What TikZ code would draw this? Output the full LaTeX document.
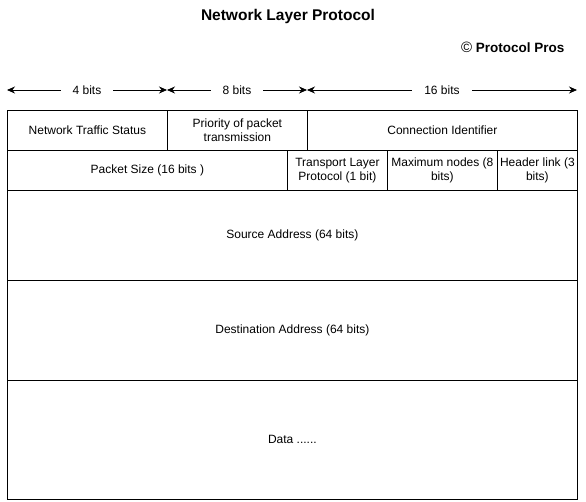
\documentclass[tikz,border=0pt]{standalone}
\usepackage{fontspec}
\setmainfont{Liberation Sans}
\usetikzlibrary{positioning,arrows.meta}
\tikzset{
    cell/.style={draw=black, line width=0.8pt, anchor=north west, inner sep=1pt,
        align=center, font=\fontsize{12}{14}\selectfont},
    bitlabel/.style={fill=white, inner xsep=12pt, font=\fontsize{12}{14}\selectfont},
    bitarrow/.style={{Stealth[length=8pt,width=7pt]}-{Stealth[length=8pt,width=7pt]}, line width=0.8pt}
}
\begin{document}
\begin{tikzpicture}[x=1pt, y=-1pt]
        \useasboundingbox (0,0) rectangle (586,501);
        % --- TIEU DE ---
        \node[font=\bfseries\fontsize{15.5}{18}\selectfont] (title) at (288,16) {Network Layer Protocol};
        \node[font=\bfseries\fontsize{13.5}{16}\selectfont, anchor=east] (brand) at (568,47) {\textmd{\fontsize{15}{16}\selectfont ©} Protocol Pros};

        % --- MUI TEN DO DAI BIT ---
        \coordinate (b0) at (7,90);
        \coordinate (b1) at (167,90);
        \coordinate (b2) at (307,90);
        \coordinate (b3) at (577,90);
        \draw[bitarrow] (b0) -- node[bitlabel] (l4) {4 bits} (b1);
        \draw[bitarrow] (b1) -- node[bitlabel] (l8) {8 bits} (b2);
        \draw[bitarrow] (b2) -- node[bitlabel] (l16) {16 bits} (b3);

        % --- HANG 1 ---
        \node[cell, minimum width=160pt, minimum height=40pt] (status) at (7,110) {Network Traffic Status};
        \node[cell, minimum width=140pt, minimum height=40pt] (priority) at (167,110) {Priority of packet\\transmission};
        \node[cell, minimum width=270pt, minimum height=40pt] (connid) at (307,110) {Connection Identifier};

        % --- HANG 2 ---
        \node[cell, minimum width=280pt, minimum height=40pt] (size) at (7,150) {Packet Size (16 bits )};
        \node[cell, minimum width=100pt, minimum height=40pt] (transport) at (287,150) {Transport Layer\\Protocol (1 bit)};
        \node[cell, minimum width=110pt, minimum height=40pt] (maxnodes) at (387,150) {Maximum nodes (8\\bits)};
        \node[cell, minimum width=80pt, minimum height=40pt] (header) at (497,150) {Header link (3\\bits)};

        % --- DIA CHI VA DU LIEU ---
        \node[cell, minimum width=570pt, minimum height=90pt] (source) at (7,190) {Source Address (64 bits)};
        \node[cell, minimum width=570pt, minimum height=100pt] (dest) at (7,280) {Destination Address (64 bits)};
        \node[cell, minimum width=570pt, minimum height=119pt] (data) at (7,380) {Data ......};
    \end{tikzpicture}
\end{document}
